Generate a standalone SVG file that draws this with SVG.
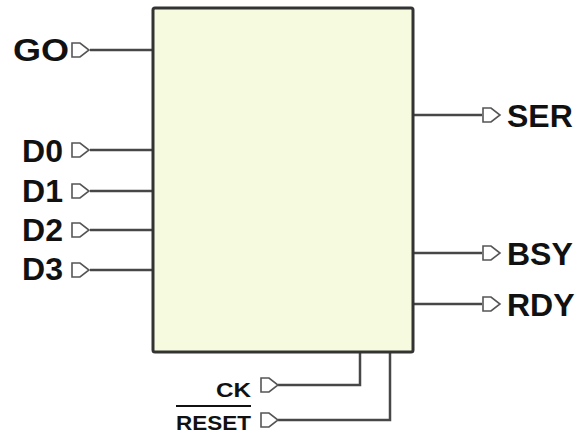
<svg xmlns="http://www.w3.org/2000/svg" width="582" height="434" viewBox="0 0 582 434">
<style>
.lbl{font-family:"Liberation Sans",Arial,sans-serif;font-weight:bold;fill:#111;}
.big{font-size:32px;}
.small{font-size:21px;}
.wire{fill:none;stroke:#474747;stroke-width:2.5;}
.pin{fill:#fff;stroke:#555;stroke-width:1.6;stroke-linejoin:miter;}
</style>
<defs>
<path id="pinR" class="pin" d="M0,-7 L8,-7 L17,0 L8,7 L0,7 Z"/>
</defs>
<rect width="582" height="434" fill="#fff"/>
<g id="connectors">
<path class="wire" d="M90,50 H153"/>
<path class="wire" d="M90,150 H153"/>
<path class="wire" d="M90,191 H153"/>
<path class="wire" d="M90,230 H153"/>
<path class="wire" d="M90,270 H153"/>
<path class="wire" d="M413,115 H482"/>
<path class="wire" d="M413,253 H482"/>
<path class="wire" d="M413,304 H482"/>
<path class="wire" d="M278,385 H360 V352"/>
<path class="wire" d="M278,420 H390 V352"/>
</g>
<g id="block">
<rect x="153" y="8" width="260" height="344" rx="2" fill="#f6fadf" stroke="#333" stroke-width="3"/>
</g>
<g id="GO"><use href="#pinR" x="72" y="50"/><text class="lbl big" x="69" y="61" text-anchor="end" textLength="56" lengthAdjust="spacingAndGlyphs">GO</text></g>
<g id="D0"><use href="#pinR" x="72" y="150"/><text class="lbl big" x="63" y="162" text-anchor="end">D0</text></g>
<g id="D1"><use href="#pinR" x="72" y="191"/><text class="lbl big" x="63" y="202" text-anchor="end">D1</text></g>
<g id="D2"><use href="#pinR" x="72" y="230"/><text class="lbl big" x="63" y="241" text-anchor="end">D2</text></g>
<g id="D3"><use href="#pinR" x="72" y="270"/><text class="lbl big" x="63" y="280" text-anchor="end">D3</text></g>
<g id="SER"><use href="#pinR" x="483" y="115"/><text class="lbl big" x="507" y="127">SER</text></g>
<g id="BSY"><use href="#pinR" x="483" y="253"/><text class="lbl big" x="507" y="265">BSY</text></g>
<g id="RDY"><use href="#pinR" x="483" y="304"/><text class="lbl big" x="507" y="316">RDY</text></g>
<g id="CK"><use href="#pinR" x="261" y="385"/><text class="lbl small" x="251" y="397" text-anchor="end" textLength="35" lengthAdjust="spacingAndGlyphs">CK</text></g>
<g id="RESET"><use href="#pinR" x="261" y="420"/><text class="lbl small" x="251" y="430" text-anchor="end" textLength="75" lengthAdjust="spacingAndGlyphs">RESET</text><line x1="176" y1="406" x2="251" y2="406" stroke="#111" stroke-width="2"/></g>
</svg>
